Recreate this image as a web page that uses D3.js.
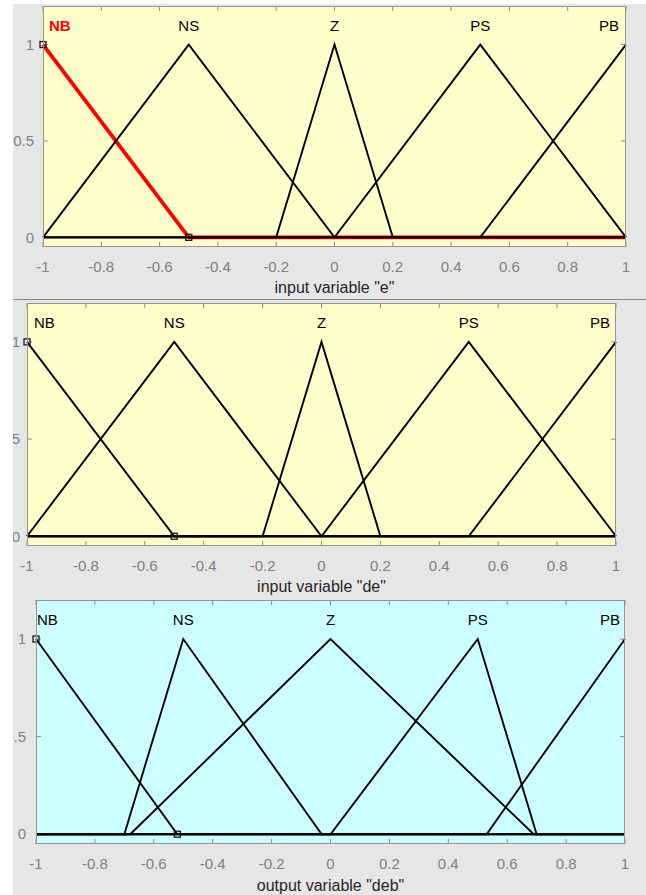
<!DOCTYPE html>
<html><head><meta charset="utf-8">
<script src="https://cdn.jsdelivr.net/npm/d3@7"></script>
<style>html,body{margin:0;padding:0;background:#fff}svg{display:block}</style>
</head><body>
<svg id="chart" width="646" height="895"></svg>
<script>
// ---------- data ----------
const mfNames = ["NB", "NS", "Z", "PS", "PB"];
// triangular membership function parameters [a, b, c]
const eParams   = [[-1.5, -1, -0.5], [-1, -0.5, 0], [-0.2, 0, 0.2], [0, 0.5, 1], [0.5, 1, 1.5]];
const deParams  = [[-1.5, -1, -0.5], [-1, -0.5, 0], [-0.2, 0, 0.2], [0, 0.5, 1], [0.5, 1, 1.5]];
const debParams = [[-1.48, -1, -0.52], [-0.7, -0.5, -0.03], [-0.68, 0, 0.69], [0, 0.5, 0.7], [0.53, 1, 1.47]];
const xTicks = [-1, -0.8, -0.6, -0.4, -0.2, 0, 0.2, 0.4, 0.6, 0.8, 1];
const xTickLabels = ["-1", "-0.8", "-0.6", "-0.4", "-0.2", "0", "0.2", "0.4", "0.6", "0.8", "1"];
const yTicks = [0, 0.5, 1];
const yTickLabels = ["0", "0.5", "1"];
const xDomain = [-1, 1];
const yDomain = [-0.05, 1.2];
const axisTitles = ['input variable "e"', 'input variable "de"', 'output variable "deb"'];

// ---------- layout ----------
const panels = [
  {params: eParams,   title: axisTitles[0], left: 43, right: 626, top: 6,   bottom: 247, fill: "#ffffcc",
   tickBase: 272, titleBase: 293, nbOff: 6, pbOff: 7, yLabOff: 9, selected: 0},
  {params: deParams,  title: axisTitles[1], left: 27, right: 616, top: 303, bottom: 546, fill: "#ffffcc",
   tickBase: 571, titleBase: 592, nbOff: 7, pbOff: 6, yLabOff: 7, selected: -1},
  {params: debParams, title: axisTitles[2], left: 36, right: 625, top: 600, bottom: 844, fill: "#ccffff",
   tickBase: 869, titleBase: 891, nbOff: 1, pbOff: 5, yLabOff: 10, selected: -1}
];

const svg = d3.select("#chart");
svg.append("rect").attr("x", 0).attr("y", 0).attr("width", 646).attr("height", 895).attr("fill", "#ffffff");
svg.append("rect").attr("x", 13).attr("y", 4).attr("width", 633).attr("height", 891).attr("fill", "#e6e6e6");
svg.append("line").attr("x1", 13).attr("x2", 646).attr("y1", 299.5).attr("y2", 299.5)
  .attr("stroke", "#8a8a8a").attr("stroke-width", 1);

const FONT = "'Liberation Sans', Arial, Helvetica, sans-serif";
const borderCol = "#959595";
const tickCol = "#8a8a8a";

function trimfPoints(p) {
  const [a, b, c] = p;
  const f = x => Math.max(0, Math.min((x - a) / (b - a), (c - x) / (c - b)));
  const xs = [xDomain[0], a, b, c, xDomain[1]]
    .filter(x => x >= xDomain[0] && x <= xDomain[1])
    .sort((u, v) => u - v);
  return xs.map(x => [x, f(x)]);
}

panels.forEach((P, pi) => {
  const x = d3.scaleLinear().domain(xDomain).range([P.left, P.right]);
  const y = d3.scaleLinear().domain(yDomain).range([P.bottom, P.top]);
  const g = svg.append("g");

  g.append("rect").attr("x", P.left).attr("y", P.top)
    .attr("width", P.right - P.left).attr("height", P.bottom - P.top)
    .attr("fill", P.fill);

  // ticks (inward) bottom/top
  const tl = 5;
  xTicks.forEach(t => {
    g.append("line").attr("x1", x(t)).attr("x2", x(t)).attr("y1", P.bottom).attr("y2", P.bottom - tl)
      .attr("stroke", tickCol).attr("stroke-width", 1);
    g.append("line").attr("x1", x(t)).attr("x2", x(t)).attr("y1", P.top).attr("y2", P.top + tl)
      .attr("stroke", tickCol).attr("stroke-width", 1);
  });
  yTicks.forEach(t => {
    g.append("line").attr("x1", P.left).attr("x2", P.left + tl).attr("y1", y(t)).attr("y2", y(t))
      .attr("stroke", tickCol).attr("stroke-width", 1);
    g.append("line").attr("x1", P.right).attr("x2", P.right - tl).attr("y1", y(t)).attr("y2", y(t))
      .attr("stroke", tickCol).attr("stroke-width", 1);
  });

  const line = d3.line().x(d => x(d[0])).y(d => y(d[1]));

  // selected MF first (thick red), then others black
  if (P.selected >= 0) {
    g.append("path").attr("d", line(trimfPoints(P.params[P.selected])))
      .attr("fill", "none").attr("stroke", "#ff0000").attr("stroke-width", 3.8)
      .attr("stroke-linejoin", "round");
  }
  P.params.forEach((p, i) => {
    if (i === P.selected) return;
    g.append("path").attr("d", line(trimfPoints(p)))
      .attr("fill", "none").attr("stroke", "#000").attr("stroke-width", 1.9)
      .attr("stroke-linejoin", "miter");
  });

  // markers on first MF vertices
  const nb = P.params[0];
  [[nb[1], 1], [nb[2], 0]].forEach(d => {
    g.append("rect").attr("x", x(d[0]) - 3).attr("y", y(d[1]) - 3)
      .attr("width", 6).attr("height", 6)
      .attr("fill", "none").attr("stroke", "#1a1a1a").attr("stroke-width", 1.3);
  });

  // border
  g.append("rect").attr("x", P.left + 0.5).attr("y", P.top + 0.5)
    .attr("width", P.right - P.left - 1).attr("height", P.bottom - P.top - 1)
    .attr("fill", "none").attr("stroke", borderCol).attr("stroke-width", 1);

  // MF labels
  P.params.forEach((p, i) => {
    const t = g.append("text").attr("y", y(1) - 14)
      .attr("font-family", FONT).attr("font-size", 15)
      .attr("fill", i === P.selected ? "#ff0000" : "#000")
      .attr("font-weight", i === P.selected ? "bold" : "normal")
      .text(mfNames[i]);
    if (i === 0) t.attr("x", P.left + P.nbOff).attr("text-anchor", "start");
    else if (i === P.params.length - 1) t.attr("x", P.right - P.pbOff).attr("text-anchor", "end");
    else t.attr("x", x(p[1])).attr("text-anchor", "middle");
  });

  // x tick labels
  xTicks.forEach((t, i) => {
    g.append("text").attr("x", x(t)).attr("y", P.tickBase)
      .attr("text-anchor", "middle").attr("font-family", FONT).attr("font-size", 15)
      .attr("fill", "#808080").text(xTickLabels[i]);
  });
  // y tick labels
  yTicks.forEach((t, i) => {
    g.append("text").attr("x", P.left - P.yLabOff).attr("y", y(t)).attr("dy", "0.35em")
      .attr("text-anchor", "end").attr("font-family", FONT).attr("font-size", 15)
      .attr("fill", "#808080").text(yTickLabels[i]);
  });
  // axis title
  g.append("text").attr("x", (P.left + P.right) / 2).attr("y", P.titleBase)
    .attr("text-anchor", "middle").attr("font-family", FONT).attr("font-size", 16)
    .attr("fill", "#262626").text(P.title);
});

// white strips that clip the outer labels
svg.append("rect").attr("x", 0).attr("y", 0).attr("width", 13).attr("height", 895).attr("fill", "#fff");
svg.append("rect").attr("x", 0).attr("y", 0).attr("width", 646).attr("height", 4).attr("fill", "#fff");
</script>
</body></html>
